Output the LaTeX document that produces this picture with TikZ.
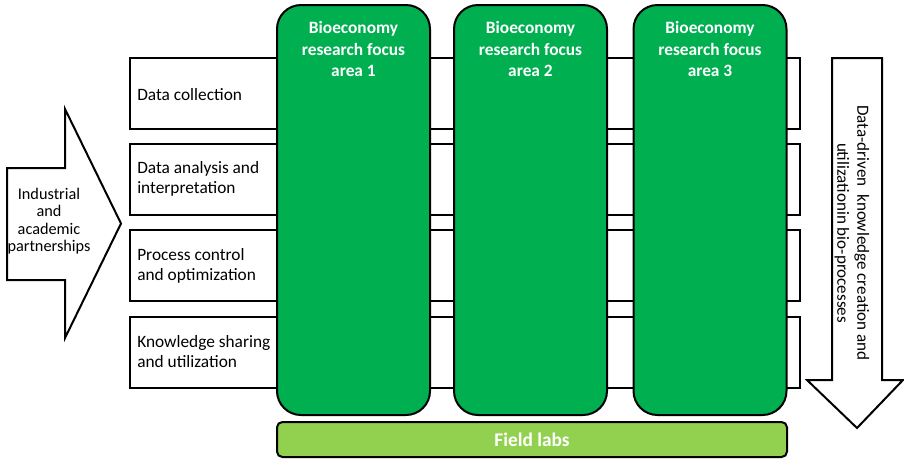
\documentclass[tikz,border=0pt]{standalone}
\usepackage{fontspec}
\setmainfont{Carlito}
\definecolor{colgreen}{HTML}{00B050}
\definecolor{labgreen}{HTML}{92D050}
\begin{document}
\begin{tikzpicture}[x=0.75pt,y=-0.75pt,
  outline/.style={draw=black,line width=1.5pt},
  stagebox/.style={outline,fill=white,minimum width=502.5pt,minimum height=53.25pt,inner sep=0pt},
  stagetext/.style={anchor=west,align=left,font=\fontsize{13pt}{15pt}\selectfont,inner sep=0pt},
  focuscol/.style={outline,fill=colgreen,rounded corners=18pt,minimum width=114.75pt,minimum height=307.5pt,inner sep=0pt},
  focustitle/.style={anchor=north,align=center,text=white,font=\fontsize{13pt}{16.3pt}\selectfont\bfseries,inner sep=0pt},
  labbar/.style={outline,fill=labgreen,rounded corners=4pt,minimum width=382.5pt,minimum height=26.25pt,inner sep=0pt,text=white,font=\fontsize{14.5pt}{16pt}\selectfont\bfseries}
]
\useasboundingbox (0,0) rectangle (904,458);

% process stages
\node[stagebox] (s1) at (465,93.5) {};
\node[stagebox] (s2) at (465,179) {};
\node[stagebox] (s3) at (465,265.5) {};
\node[stagebox] (s4) at (465,352) {};
\node[stagetext] (t1) at (137,95) {Data collection};
\node[stagetext] (t2) at (137,179) {Data analysis and\\interpretation};
\node[stagetext] (t3) at (137,266) {Process control\\and optimization};
\node[stagetext] (t4) at (137,352) {Knowledge sharing\\and utilization};

% research focus columns
\node[focuscol] (c1) at (353.5,210) {};
\node[focuscol] (c2) at (530.5,210) {};
\node[focuscol] (c3) at (710,210) {};
\node[focustitle] (h1) at (353.5,21) {Bioeconomy\\research focus\\area 1};
\node[focustitle] (h2) at (530.5,21) {Bioeconomy\\research focus\\area 2};
\node[focustitle] (h3) at (710,21) {Bioeconomy\\research focus\\area 3};

% field labs bar
\node[labbar] (fl) at (532,439.5) {Field labs};

% partnerships arrow (left)
\draw[outline,fill=white,line join=miter]
  (7,168) -- (65,168) -- (65,109) -- (121,223.5) -- (65,338) -- (65,280) -- (7,280) -- cycle;
\node[align=center,font=\fontsize{12.2pt}{13pt}\selectfont,inner sep=0pt] (pa) at (49,221)
  {Industrial\\and\\academic\\partnerships};

% knowledge creation arrow (right)
\draw[outline,fill=white,line join=miter]
  (832,58) -- (882,58) -- (882,380) -- (903,380) -- (857,428) -- (807,380) -- (832,380) -- cycle;
\node[rotate=-90,align=center,font=\fontsize{12.8pt}{15pt}\selectfont,inner sep=0pt] (ka) at (852,233)
  {Data-driven\ \ knowledge creation and\\utilizationin bio-processes};
\end{tikzpicture}
\end{document}
